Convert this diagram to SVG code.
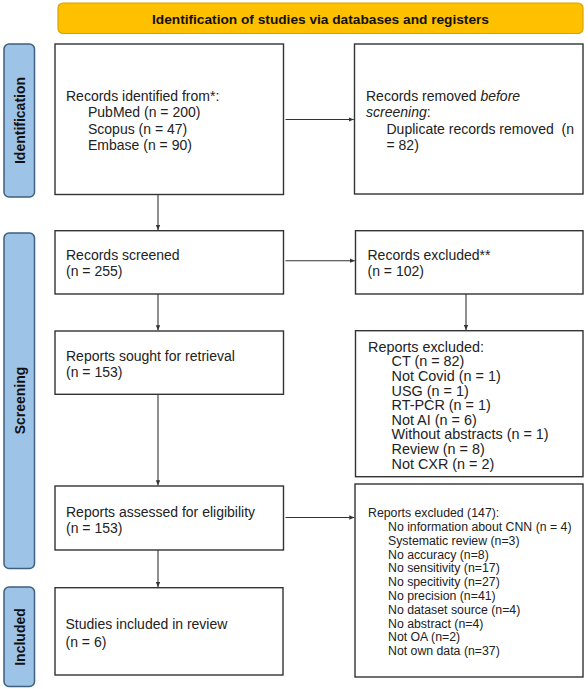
<svg xmlns="http://www.w3.org/2000/svg" width="588" height="689" viewBox="0 0 588 689">
<defs>
<marker id="ah" markerWidth="6" markerHeight="6" refX="5" refY="3" orient="auto" markerUnits="userSpaceOnUse">
<path d="M0,0.8 L5,3 L0,5.2 Z" fill="#333"/>
</marker>
<style>
.box{fill:#fff;stroke:#333;stroke-width:1.4}
.tab{fill:#9DC3E6;stroke:#3E5F80;stroke-width:1.5}
.ban{fill:#FFC000;stroke:#D9A400;stroke-width:1.2}
.t{font-family:"Liberation Sans",Arial,sans-serif;font-size:14px;fill:#222}
.s{font-family:"Liberation Sans",Arial,sans-serif;font-size:12.3px;fill:#222}
.m{font-family:"Liberation Sans",Arial,sans-serif;font-size:14.4px;fill:#222}
.b{font-family:"Liberation Sans",Arial,sans-serif;font-size:14px;font-weight:bold;fill:#111;text-anchor:middle}
.c{stroke:#333;stroke-width:1.1;fill:none;marker-end:url(#ah)}
</style>
</defs>
<rect width="588" height="689" fill="#fff"/>
<g id="banner">
<rect class="ban" x="58" y="3" width="525" height="30.5" rx="5"/>
<text class="b" x="320.5" y="23.5" style="font-size:13.7px">Identification of studies via databases and registers</text>
</g>
<g id="tab-identification">
<rect class="tab" x="4" y="44" width="30.5" height="153" rx="5"/>
<text class="b" transform="translate(24.5,120.5) rotate(-90)">Identification</text>
</g>
<g id="tab-screening">
<rect class="tab" x="4" y="233" width="30.5" height="335.5" rx="5"/>
<text class="b" transform="translate(24.5,400.5) rotate(-90)">Screening</text>
</g>
<g id="tab-included">
<rect class="tab" x="4" y="587" width="30.5" height="99.5" rx="5"/>
<text class="b" transform="translate(24.5,637) rotate(-90)">Included</text>
</g>
<g id="records-identified">
<rect class="box" x="55" y="44" width="228.5" height="150.5"/>
<text class="t" x="66" y="101">Records identified from*:</text>
<text class="t" x="88" y="117">PubMed (n = 200)</text>
<text class="t" x="88" y="133.5">Scopus (n = 47)</text>
<text class="t" x="88" y="150">Embase (n = 90)</text>
</g>
<g id="records-removed">
<rect class="box" x="354.5" y="44" width="228.5" height="150"/>
<text class="t" x="366" y="101">Records removed <tspan font-style="italic">before</tspan></text>
<text class="t" x="366" y="117"><tspan font-style="italic">screening</tspan>:</text>
<text class="t" x="386.5" y="133.5">Duplicate records removed &#160;(n</text>
<text class="t" x="386.5" y="150">= 82)</text>
</g>
<g id="records-screened">
<rect class="box" x="55" y="230.7" width="228.5" height="63.3"/>
<text class="t" x="66" y="260">Records screened</text>
<text class="t" x="66" y="276">(n = 255)</text>
</g>
<g id="records-excluded">
<rect class="box" x="355.5" y="230.7" width="227.5" height="63.3"/>
<text class="t" x="367.5" y="260">Records excluded**</text>
<text class="t" x="367.5" y="276">(n = 102)</text>
</g>
<g id="reports-sought">
<rect class="box" x="55" y="331" width="228.5" height="63.3"/>
<text class="t" x="66" y="361">Reports sought for retrieval</text>
<text class="t" x="66" y="377">(n = 153)</text>
</g>
<g id="reports-excluded-1">
<rect class="box" x="355.5" y="330.7" width="227.5" height="146"/>
<text class="m" x="368" y="351.8">Reports excluded:</text>
<text class="m" x="391.5" y="366.4">CT (n = 82)</text>
<text class="m" x="391.5" y="381">Not Covid (n = 1)</text>
<text class="m" x="391.5" y="395.6">USG (n = 1)</text>
<text class="m" x="391.5" y="410.2">RT-PCR (n = 1)</text>
<text class="m" x="391.5" y="424.8">Not AI (n = 6)</text>
<text class="m" x="391.5" y="439.4">Without abstracts (n = 1)</text>
<text class="m" x="391.5" y="454">Review (n = 8)</text>
<text class="m" x="391.5" y="468.6">Not CXR (n = 2)</text>
</g>
<g id="reports-assessed">
<rect class="box" x="55" y="486" width="228.5" height="64"/>
<text class="t" x="66" y="516.5">Reports assessed for eligibility</text>
<text class="t" x="66" y="533">(n = 153)</text>
</g>
<g id="reports-excluded-2">
<rect class="box" x="355" y="484" width="228" height="193"/>
<text class="s" x="368" y="517">Reports excluded (147):</text>
<text class="s" x="388" y="531">No information about CNN (n = 4)</text>
<text class="s" x="388" y="544.8">Systematic review (n=3)</text>
<text class="s" x="388" y="558.6">No accuracy (n=8)</text>
<text class="s" x="388" y="572.4">No sensitivity (n=17)</text>
<text class="s" x="388" y="586.2">No specitivity (n=27)</text>
<text class="s" x="388" y="600">No precision (n=41)</text>
<text class="s" x="388" y="613.8">No dataset source (n=4)</text>
<text class="s" x="388" y="627.6">No abstract (n=4)</text>
<text class="s" x="388" y="641.4">Not OA (n=2)</text>
<text class="s" x="388" y="655.2">Not own data (n=37)</text>
</g>
<g id="studies-included">
<rect class="box" x="55" y="587.7" width="228" height="87.3"/>
<text class="t" x="65.5" y="629">Studies included in review</text>
<text class="t" x="65.5" y="647">(n = 6)</text>
</g>
<g id="connectors">
<line class="c" x1="158" y1="194.5" x2="158" y2="230"/>
<line class="c" x1="158" y1="294" x2="158" y2="330.3"/>
<line class="c" x1="158" y1="394.3" x2="158" y2="485.3"/>
<line class="c" x1="158" y1="550" x2="158" y2="587"/>
<line class="c" x1="466" y1="294" x2="466" y2="330"/>
<line class="c" x1="285.5" y1="119.5" x2="353.8" y2="119.5"/>
<line class="c" x1="285.5" y1="260.7" x2="354.8" y2="260.7"/>
<line class="c" x1="285.5" y1="517.5" x2="354.3" y2="517.5"/>
</g>
</svg>
